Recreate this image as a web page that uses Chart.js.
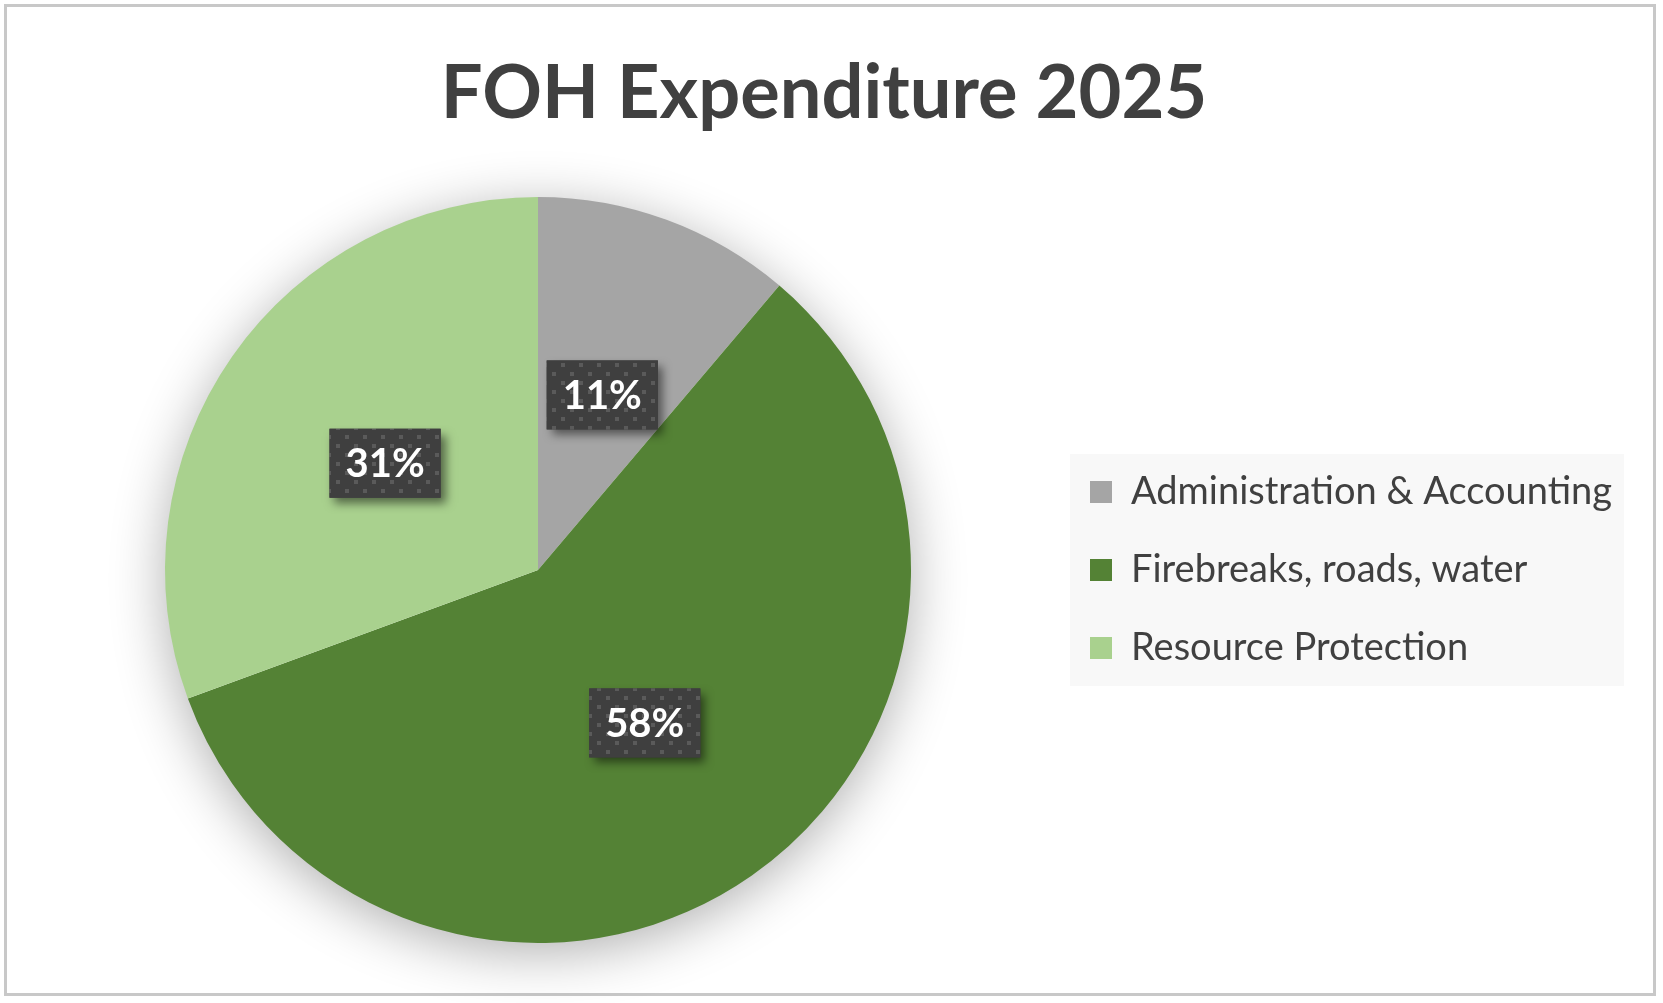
<!DOCTYPE html>
<html><head><meta charset="utf-8">
<script src="https://cdn.jsdelivr.net/npm/chart.js@4.4.1/dist/chart.umd.min.js"></script>
<style>html,body{margin:0;padding:0;background:#fff;overflow:hidden}#wrap{position:absolute;left:0;top:0;width:1663px;height:1003px}canvas{display:block}</style>
</head><body><div id="wrap"><canvas id="c" width="1663" height="1003" style="width:1663px;height:1003px"></canvas></div>
<script>
const titleText = 'FOH Expenditure 2025';
const categories = ['Administration & Accounting', 'Firebreaks, roads, water', 'Resource Protection'];
const values = [11.2, 58.2, 30.6];
const sliceColors = ['#a5a5a5', '#548235', '#a9d18e'];

const FONT = 'Lato';
const W = 1663, H = 1003;
const LEGEND_FONT = 38;
const LEGEND_PAD = 40;
const LEGEND_BOX = 22;

function makePattern(ctx) {
  const t = document.createElement('canvas');
  t.width = 18; t.height = 18;
  const g = t.getContext('2d');
  g.fillStyle = '#3f3f3f'; g.fillRect(0, 0, 18, 18);
  g.fillStyle = '#5a5a5a';
  g.fillRect(3, 3, 4, 4);
  g.fillRect(12, 12, 4, 4);
  return ctx.createPattern(t, 'repeat');
}

const deco = {
  id: 'deco',
  beforeDraw(chart) {
    const ctx = chart.ctx;
    ctx.save();
    ctx.fillStyle = '#ffffff';
    ctx.fillRect(0, 0, chart.width, chart.height);
    ctx.strokeStyle = '#c8c8c8';
    ctx.lineWidth = 3;
    ctx.strokeRect(5.5, 5.5, 1649, 989);
    const hb = chart.legend && chart.legend.legendHitBoxes;
    if (hb && hb.length) {
      let l = Infinity, r = -Infinity, t = Infinity, b = -Infinity;
      hb.forEach(h => { l = Math.min(l, h.left); r = Math.max(r, h.left + h.width); t = Math.min(t, h.top); b = Math.max(b, h.top + h.height); });
      ctx.fillStyle = '#f8f8f8';
      ctx.fillRect(l - 20, t - 19, (r - l) + 32, (b - t) + 38);
    }
    ctx.restore();
  },
  beforeDatasetsDraw(chart) {
    const arc = chart.getDatasetMeta(0).data[0];
    if (!arc) return;
    const ctx = chart.ctx;
    ctx.save();
    ctx.shadowColor = 'rgba(0,0,0,0.32)';
    ctx.shadowBlur = 55;
    ctx.shadowOffsetX = 0;
    ctx.shadowOffsetY = 10;
    ctx.fillStyle = '#ffffff';
    ctx.beginPath();
    ctx.arc(arc.x, arc.y, arc.outerRadius - 1, 0, Math.PI * 2);
    ctx.fill();
    ctx.restore();
  },
  afterDatasetsDraw(chart) {
    const ctx = chart.ctx;
    const meta = chart.getDatasetMeta(0);
    const data = chart.data.datasets[0].data;
    const total = data.reduce((a, b) => a + b, 0);
    const pat = makePattern(ctx);
    meta.data.forEach((arc, i) => {
      const p = arc.tooltipPosition();
      const txt = Math.round(data[i] / total * 100) + '%';
      ctx.save();
      ctx.font = 'bold 40px ' + FONT;
      const tw = ctx.measureText(txt).width;
      const bw = tw + 32, bh = 69;
      const bx = p.x - bw / 2, by = p.y - bh / 2;
      ctx.shadowColor = 'rgba(0,0,0,0.5)';
      ctx.shadowBlur = 9;
      ctx.shadowOffsetX = 5;
      ctx.shadowOffsetY = 6;
      ctx.fillStyle = '#3f3f3f';
      ctx.fillRect(bx, by, bw, bh);
      ctx.shadowColor = 'transparent';
      ctx.fillStyle = pat;
      ctx.fillRect(bx, by, bw, bh);
      ctx.fillStyle = '#ffffff';
      ctx.textAlign = 'center';
      ctx.textBaseline = 'middle';
      ctx.fillText(txt, p.x, p.y + 1);
      ctx.restore();
    });
  }
};

function build() {
  const mctx = document.createElement('canvas').getContext('2d');
  mctx.font = 'bold 100px ' + FONT;
  const tw = mctx.measureText(titleText).width;
  const titleSize = Math.round(100 * 762 / tw);
  const lh = 1.2 * titleSize;
  const titleCenter = 94;
  const chartTop = 197;
  const padTop = titleCenter - lh / 2;
  const padBottom = chartTop - titleCenter - lh / 2;

  mctx.font = LEGEND_FONT + 'px ' + FONT;
  const maxText = Math.max(...categories.map(c => mctx.measureText(c).width));
  const legendWidth = LEGEND_BOX + LEGEND_FONT / 2 + maxText + LEGEND_PAD + 10;
  const legendLeft = 1090 - LEGEND_PAD;
  const padRight = Math.max(0, W - legendLeft - legendWidth);

  new Chart(document.getElementById('c'), {
    type: 'pie',
    data: {
      labels: categories,
      datasets: [{ data: values, backgroundColor: sliceColors, borderWidth: 0, hoverOffset: 0 }]
    },
    plugins: [deco],
    options: {
      responsive: false,
      devicePixelRatio: 1,
      animation: false,
      events: [],
      layout: { padding: { left: 26, right: padRight, top: 0, bottom: 60 } },
      plugins: {
        title: {
          display: true,
          text: titleText,
          color: '#404040',
          font: { family: FONT, size: titleSize, weight: 'bold' },
          padding: { top: padTop, bottom: padBottom }
        },
        legend: {
          display: true,
          position: 'right',
          fullSize: false,
          labels: {
            color: '#404040',
            font: { family: FONT, size: LEGEND_FONT },
            boxWidth: LEGEND_BOX,
            boxHeight: LEGEND_BOX,
            padding: LEGEND_PAD
          }
        },
        tooltip: { enabled: false }
      }
    }
  });
}

const ready = document.fonts ? Promise.all([
  document.fonts.load('bold 80px ' + FONT),
  document.fonts.load(LEGEND_FONT + 'px ' + FONT)
]) : Promise.resolve();
Promise.race([ready, new Promise(r => setTimeout(r, 1500))]).then(build, build);
</script>
</body></html>
